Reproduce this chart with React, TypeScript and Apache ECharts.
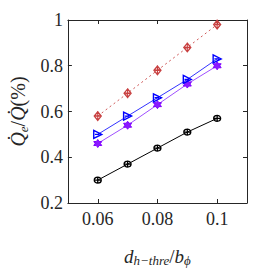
import React, { useEffect, useRef } from "react";
import * as echarts from "echarts";

const xValues = [0.06, 0.07, 0.08, 0.09, 0.1];
const redValues = [0.58, 0.68, 0.78, 0.88, 0.98];
const blueValues = [0.5, 0.58, 0.66, 0.74, 0.83];
const purpleValues = [0.46, 0.54, 0.63, 0.72, 0.8];
const blackValues = [0.3, 0.37, 0.44, 0.51, 0.57];

const circleSym = "path://M0,10 A10,10 0 1,1 20,10 A10,10 0 1,1 0,10 Z M10,-2 L10,22 M0,10 L20,10";
const diamondSym = "path://M10,0 L19,12 L10,24 L1,12 Z M10,-2 L10,26 M4,12 L16,12";
const triSym = "path://M0,0 L20,10 L0,20 Z M3,10 L14,10";
const hexSym =
  "path://M10,0 L12.9,5 L18.66,5 L15.8,10 L18.66,15 L12.9,15 L10,20 L7.1,15 L1.34,15 L4.2,10 L1.34,5 L7.1,5 Z";

const font = "Liberation Serif";

export default function App() {
  const ref = useRef<HTMLDivElement>(null);
  useEffect(() => {
    const chart = echarts.init(ref.current!, undefined, { renderer: "svg" });
    const pairs = (ys: number[]) => xValues.map((x, i) => [x, ys[i]]);
    const axisLine = { show: true, lineStyle: { color: "#262626", width: 1 } };
    const tick = { show: true, inside: true, length: 4, lineStyle: { color: "#262626" } };
    chart.setOption({
      animation: false,
      backgroundColor: "#ffffff",
      textStyle: { fontFamily: font },
      grid: { left: 57, right: 26, top: 20, bottom: 53 },
      xAxis: [
        {
          type: "value",
          min: 0.05,
          max: 0.11,
          interval: 0.02,
          axisLine,
          axisTick: { ...tick, customValues: [0.06, 0.08, 0.1] },
          axisLabel: {
            customValues: [0.06, 0.08, 0.1],
            formatter: (v: number) => String(Math.round(v * 100) / 100),
            fontFamily: font,
            fontSize: 18,
            color: "#262626",
            margin: 7,
          },
          splitLine: { show: false },
          name: "{i|d}{s|h−thre}{n|/}{i|b}{s|ϕ}",
          nameLocation: "middle",
          nameGap: 42,
          nameTextStyle: {
            fontFamily: font,
            rich: {
              i: { fontFamily: font, fontStyle: "italic", fontSize: 19, color: "#262626" },
              n: { fontFamily: font, fontSize: 19, color: "#262626" },
              s: { fontFamily: font, fontStyle: "italic", fontSize: 13, color: "#262626", padding: [9, 0, 0, 0] },
            },
          },
        },
        {
          type: "value",
          position: "top",
          min: 0.05,
          max: 0.11,
          interval: 0.02,
          axisLine,
          axisTick: { ...tick, customValues: [0.06, 0.08, 0.1] },
          axisLabel: { show: false },
          splitLine: { show: false },
        },
      ],
      yAxis: [
        {
          type: "value",
          min: 0.2,
          max: 1,
          interval: 0.2,
          axisLine,
          axisTick: tick,
          axisLabel: {
            formatter: (v: number) => String(Math.round(v * 10) / 10),
            fontFamily: font,
            fontSize: 18,
            color: "#262626",
            margin: 5,
          },
          splitLine: { show: false },
          name: "{i|Q̇}{s|e}{n|/}{i|Q̇}{n|(%)}",
          nameLocation: "middle",
          nameRotate: 90,
          nameGap: 38,
          nameTextStyle: {
            fontFamily: font,
            rich: {
              i: { fontFamily: font, fontStyle: "italic", fontSize: 20, color: "#262626" },
              n: { fontFamily: font, fontSize: 20, color: "#262626" },
              s: { fontFamily: font, fontStyle: "italic", fontSize: 13, color: "#262626", padding: [10, 0, 0, 0] },
            },
          },
        },
        {
          type: "value",
          position: "right",
          min: 0.2,
          max: 1,
          interval: 0.2,
          axisLine,
          axisTick: tick,
          axisLabel: { show: false },
          splitLine: { show: false },
        },
      ],
      series: [
        {
          type: "line",
          data: pairs(redValues),
          symbol: diamondSym,
          symbolSize: [7, 10],
          lineStyle: { color: "#d05a5a", width: 1, type: [2, 3] },
          itemStyle: { color: "rgba(0,0,0,0)", borderColor: "#c84040", borderWidth: 1.3 },
          z: 3,
        },
        {
          type: "line",
          data: pairs(blueValues),
          symbol: triSym,
          symbolSize: 8,
          lineStyle: { color: "#3333ff", width: 1 },
          itemStyle: { color: "rgba(0,0,0,0)", borderColor: "#0000ff", borderWidth: 1.4 },
          z: 4,
        },
        {
          type: "line",
          data: pairs(purpleValues),
          symbol: hexSym,
          symbolSize: 8,
          lineStyle: { color: "#a050ff", width: 1 },
          itemStyle: { color: "#8a1aff", borderColor: "#8000ff", borderWidth: 1 },
          z: 3,
        },
        {
          type: "line",
          data: pairs(blackValues),
          symbol: circleSym,
          symbolSize: 7,
          lineStyle: { color: "#000000", width: 1 },
          itemStyle: { color: "rgba(0,0,0,0)", borderColor: "#000000", borderWidth: 1.3 },
          z: 3,
        },
      ],
    });
    return () => chart.dispose();
  }, []);
  return (
    <div
      ref={ref}
      style={{ position: "fixed", left: 0, top: 0, width: 273, height: 272, background: "#fff" }}
    />
  );
}
